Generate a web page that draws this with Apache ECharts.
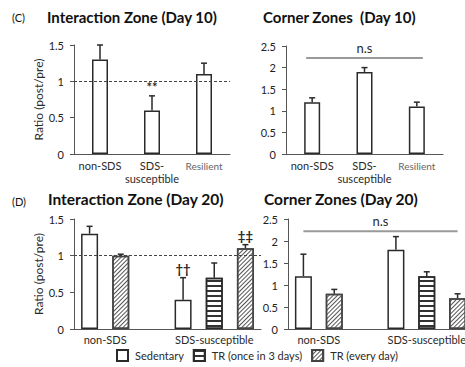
<!DOCTYPE html>
<html><head><meta charset="utf-8">
<script src="https://cdn.jsdelivr.net/npm/echarts@6/dist/echarts.min.js"></script>
<style>html,body{margin:0;padding:0;background:#fff}#c{width:465px;height:367px}</style>
</head><body><div id="c"></div>
<script>
const FONT = 'Lato';
// ---- Panel C (Day 10) ----
const day10Categories = ['non-SDS', 'SDS-\nsusceptible', 'Resilient'];
const day10InteractionMean = [1.3, 0.6, 1.1];
const day10InteractionErr = [0.2, 0.2, 0.15];
const day10InteractionSig = ['', '**', ''];
const day10CornerMean = [1.2, 1.9, 1.1];
const day10CornerErr = [0.1, 0.1, 0.1];
// ---- Panel D (Day 20) ----
const day20Groups = ['non-SDS', 'SDS-susceptible'];
const treatments = ['Sedentary', 'TR (once in 3 days)', 'TR (every day)'];
const day20InterSedentary = [1.3, 0.4];
const day20InterSedentaryErr = [0.1, 0.3];
const day20InterSedentarySig = ['', '††'];
const day20InterOnce = [null, 0.7];
const day20InterOnceErr = [null, 0.2];
const day20InterOnceSig = ['', ''];
const day20InterEvery = [1.0, 1.1];
const day20InterEveryErr = [0.02, 0.05];
const day20InterEverySig = ['', '‡‡'];
const day20CornerSedentary = [1.2, 1.8];
const day20CornerSedentaryErr = [0.5, 0.3];
const day20CornerOnce = [null, 1.2];
const day20CornerOnceErr = [null, 0.1];
const day20CornerEvery = [0.8, 0.7];
const day20CornerEveryErr = [0.1, 0.1];
// ---- tick labels ----
const interactionTicks = [0, 0.5, 1, 1.5];
const cornerTicks = [0, 0.5, 1, 1.5, 2, 2.5];
const referenceLevel = 1;
const nsLevel = 2.22;

// ---- styles ----
const INK = '#2a2a2a';
const treatmentStyles = [
  { color: '#fff', borderColor: INK, borderWidth: 1.5 },
  { color: '#fff', borderColor: INK, borderWidth: 1.5,
    decal: { symbol: 'rect', symbolSize: 1, dashArrayX: [1, 0], dashArrayY: [1.2, 2.1], rotation: 0, color: '#333' } },
  { color: '#fff', borderColor: '#444', borderWidth: 1.5,
    decal: { symbol: 'rect', symbolSize: 1, dashArrayX: [1, 0], dashArrayY: [1, 1.5], rotation: -Math.PI / 4, color: '#555' } }
];

const grids = [
  { left: 74, top: 45, width: 156, height: 109 },
  { left: 286, top: 46, width: 157, height: 108 },
  { left: 74, top: 219, width: 187, height: 110 },
  { left: 288, top: 219, width: 185, height: 110 }
];

function errRender(sigs) {
  return function (params, api) {
    const x = api.value(0), m = api.value(1), t = api.value(2);
    const p1 = api.coord([x, m]), p2 = api.coord([x, t]);
    const children = [
      { type: 'line', shape: { x1: p1[0], y1: p1[1], x2: p2[0], y2: p2[1] }, style: { stroke: INK, lineWidth: 1.5 } },
      { type: 'line', shape: { x1: p2[0] - 3, y1: p2[1], x2: p2[0] + 3, y2: p2[1] }, style: { stroke: INK, lineWidth: 1.5 } }
    ];
    const s = sigs && sigs[params.dataIndex];
    if (s) children.push({ type: 'text', x: p2[0], y: p2[1] - 2,
      style: { text: s, fill: INK, fontSize: 13, fontWeight: 'bold', fontFamily: FONT, align: 'center', verticalAlign: 'bottom' } });
    return { type: 'group', children };
  };
}
function nsRender(text, ext) {
  return function (params, api) {
    const a = api.coord([api.value(0), api.value(2)]);
    const b = api.coord([api.value(1), api.value(2)]);
    return { type: 'group', children: [
      { type: 'line', shape: { x1: a[0] - ext, y1: a[1], x2: b[0] + ext, y2: b[1] }, style: { stroke: '#999', lineWidth: 2 } },
      { type: 'text', x: (a[0] + b[0]) / 2, y: a[1] - 4,
        style: { text: text, fill: INK, fontSize: 13, fontFamily: FONT, align: 'center', verticalAlign: 'bottom' } }
    ] };
  };
}
const dashedRef = { silent: true, symbol: ['none', 'none'], label: { show: false },
  lineStyle: { type: [3, 2], color: '#444', width: 1 }, data: [{ yAxis: referenceLevel }] };

function yAxisFor(gi, ticks, withName) {
  return {
    type: 'value', gridIndex: gi, min: ticks[0], max: ticks[ticks.length - 1], interval: ticks[1] - ticks[0],
    axisLine: { show: true, lineStyle: { color: '#555', width: 1 } },
    axisTick: { show: true, length: 4, lineStyle: { color: '#555' } },
    splitLine: { show: false },
    axisLabel: { fontSize: 11, color: '#222', fontFamily: FONT, margin: 10 },
    name: withName ? 'Ratio (post/pre)' : '', nameLocation: 'middle', nameRotate: 90, nameGap: 29,
    nameTextStyle: { fontSize: 12, color: INK, fontFamily: FONT }
  };
}

const xAxes = [], yAxes = [], series = [];
// Day 10 panels (category axes)
[[day10InteractionMean, day10InteractionErr, day10InteractionSig, interactionTicks, true],
 [day10CornerMean, day10CornerErr, null, cornerTicks, false]].forEach((p, gi) => {
  xAxes.push({ type: 'category', gridIndex: gi, data: day10Categories,
    axisLine: { show: true, lineStyle: { color: '#555' } }, axisTick: { show: false },
    axisLabel: { interval: 0, margin: 5, fontSize: 11, lineHeight: 13, color: INK, fontFamily: FONT,
      formatter: v => v === 'Resilient' ? '{r|' + v + '}' : v,
      rich: { r: { fontSize: 10, color: '#666', fontFamily: FONT } } } });
  yAxes.push(yAxisFor(gi, p[3], p[4]));
  series.push({ type: 'bar', name: treatments[0], xAxisIndex: gi, yAxisIndex: gi, barWidth: 16,
    itemStyle: treatmentStyles[0], data: p[0],
    markLine: gi === 0 ? dashedRef : undefined });
  const sig = p[2];
  series.push({ type: 'custom', xAxisIndex: gi, yAxisIndex: gi, z: 5, renderItem: errRender(sig),
    data: p[0].map((v, i) => [i, v, v + p[1][i]]) });
  if (gi === 1) series.push({ type: 'custom', xAxisIndex: gi, yAxisIndex: gi, z: 5, renderItem: nsRender('n.s', 6),
    data: [[0, day10Categories.length - 1, nsLevel]] });
});

// Day 20 panels (slot positions along a value axis)
const day20Panels = [
  { means: [day20InterSedentary, day20InterOnce, day20InterEvery],
    errs: [day20InterSedentaryErr, day20InterOnceErr, day20InterEveryErr],
    sigs: [day20InterSedentarySig, day20InterOnceSig, day20InterEverySig], ticks: interactionTicks, name: true, ref: true },
  { means: [day20CornerSedentary, day20CornerOnce, day20CornerEvery],
    errs: [day20CornerSedentaryErr, day20CornerOnceErr, day20CornerEveryErr],
    sigs: [[], [], []], ticks: cornerTicks, name: false, ns: true }
];
day20Panels.forEach((p, k) => {
  const gi = k + 2;
  const pos = treatments.map(() => []);
  const labelPos = [];
  let slot = 0;
  day20Groups.forEach((g, gIdx) => {
    const first = slot;
    treatments.forEach((t, ti) => {
      if (p.means[ti][gIdx] != null) { pos[ti][gIdx] = slot + 0.5; slot++; }
    });
    labelPos.push((first + slot) / 2);
    slot++;
  });
  const nSlots = slot - 1;
  xAxes.push({ type: 'value', gridIndex: gi, min: 0, max: nSlots,
    axisLine: { show: true, lineStyle: { color: '#555' } }, axisTick: { show: false }, splitLine: { show: false },
    axisLabel: { customValues: labelPos, margin: 5, fontSize: 11, color: INK, fontFamily: FONT,
      formatter: v => { const i = labelPos.findIndex(q => Math.abs(q - v) < 1e-6); return i >= 0 ? day20Groups[i] : ''; } } });
  yAxes.push(yAxisFor(gi, p.ticks, p.name));
  treatments.forEach((t, ti) => {
    const data = [], err = [], sg = [];
    day20Groups.forEach((g, gIdx) => {
      const v = p.means[ti][gIdx];
      if (v == null) return;
      data.push([pos[ti][gIdx], v]);
      err.push([pos[ti][gIdx], v, v + p.errs[ti][gIdx]]);
      sg.push(p.sigs[ti][gIdx] || '');
    });
    series.push({ type: 'bar', name: t, xAxisIndex: gi, yAxisIndex: gi, barWidth: 17, barGap: '-100%',
      itemStyle: treatmentStyles[ti], data: data,
      markLine: (p.ref && ti === 0) ? dashedRef : undefined });
    series.push({ type: 'custom', xAxisIndex: gi, yAxisIndex: gi, z: 5, renderItem: errRender(sg), data: err });
  });
  if (p.ns) {
    const allPos = pos.flat().filter(v => v != null);
    series.push({ type: 'custom', xAxisIndex: gi, yAxisIndex: gi, z: 5, renderItem: nsRender('n.s', 0),
      data: [[Math.min(...allPos), Math.max(...allPos), nsLevel]] });
  }
});

const T = (text, left, top, size, weight) => ({ text, left, top, padding: 0,
  textStyle: { fontSize: size, fontWeight: weight, color: '#111', fontFamily: FONT } });

const chart = echarts.init(document.getElementById('c'), null, { renderer: 'svg' });
chart.setOption({
  animation: false,
  backgroundColor: '#fff',
  textStyle: { fontFamily: FONT },
  title: [
    T('(C)', 12, 12, 11, 'normal'),
    T('Interaction Zone (Day 10)', 47, 9, 15, 'bold'),
    T('Corner Zones  (Day 10)', 263, 9, 15, 'bold'),
    T('(D)', 12, 196, 11, 'normal'),
    T('Interaction Zone (Day 20)', 48, 191, 15.5, 'bold'),
    T('Corner Zones (Day 20)', 264, 191, 15.5, 'bold')
  ],
  legend: { data: treatments, left: 111, top: 344, icon: 'rect', itemWidth: 11, itemHeight: 11, itemGap: 9,
    textStyle: { fontSize: 11, color: INK, fontFamily: FONT, padding: [0, 0, 0, 2] } },
  grid: grids.map(g => Object.assign({ outerBoundsMode: 'none' }, g)),
  xAxis: xAxes,
  yAxis: yAxes,
  series: series
});
</script></body></html>
